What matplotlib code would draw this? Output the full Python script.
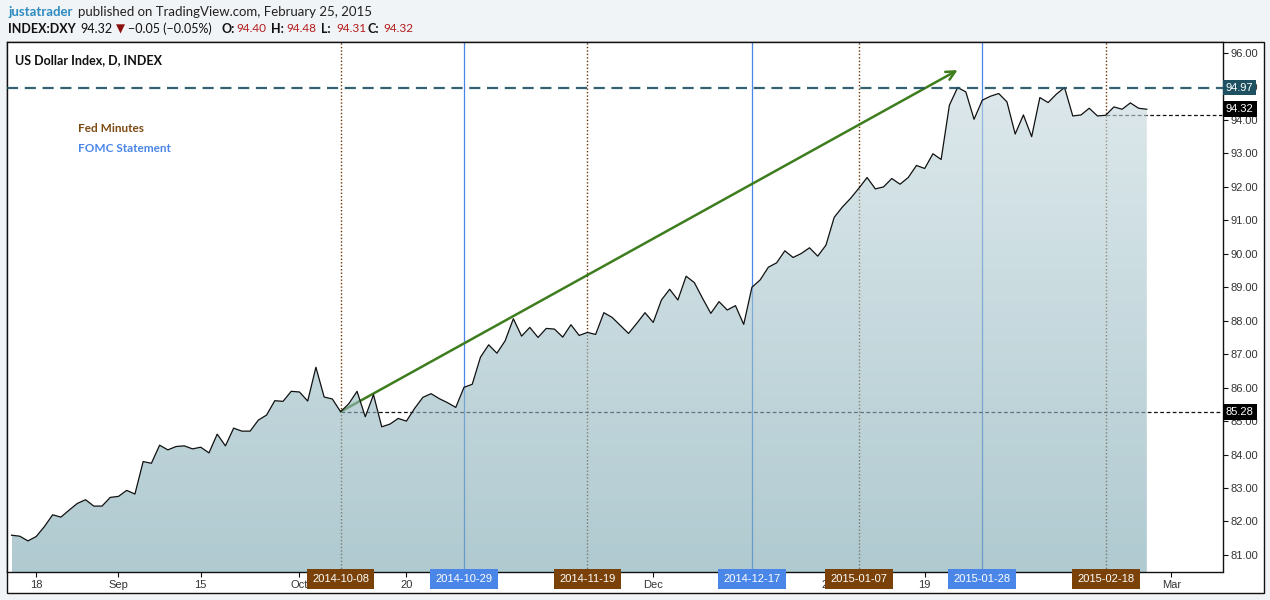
import matplotlib
matplotlib.use("Agg")
import matplotlib.pyplot as plt
import numpy as np
import pandas as pd
from matplotlib.colors import LinearSegmentedColormap
from matplotlib.patches import Rectangle

W, H = 1270, 600

# US Dollar Index daily closes, 2014-08-13 .. 2015-02-25
close = [
    81.59, 81.56, 81.42, 81.55, 81.85, 82.20, 82.13, 82.34, 82.54, 82.65,
    82.46, 82.46, 82.72, 82.75, 82.93, 82.82, 83.79, 83.74, 84.28, 84.14,
    84.24, 84.26, 84.17, 84.22, 84.05, 84.61, 84.26, 84.79, 84.70, 84.70,
    85.03, 85.18, 85.61, 85.59, 85.89, 85.87, 85.60, 86.61, 85.72, 85.66,
    85.28, 85.52, 85.89, 85.13, 85.79, 84.83, 84.91, 85.08, 85.00, 85.38,
    85.71, 85.82, 85.67, 85.55, 85.41, 86.01, 86.10, 86.91, 87.28, 87.03,
    87.40, 88.06, 87.54, 87.80, 87.50, 87.77, 87.75, 87.51, 87.88, 87.56,
    87.65, 87.59, 88.24, 88.10, 87.86, 87.62, 87.92, 88.24, 87.95, 88.62,
    88.94, 88.62, 89.33, 89.14, 88.67, 88.22, 88.57, 88.32, 88.45, 87.89,
    89.00, 89.22, 89.60, 89.73, 90.09, 89.89, 90.01, 90.18, 89.93, 90.26,
    91.09, 91.40, 91.66, 91.96, 92.28, 91.94, 92.00, 92.25, 92.08, 92.28,
    92.64, 92.55, 92.99, 92.82, 94.44, 94.97, 94.84, 94.02, 94.59, 94.71,
    94.79, 94.54, 93.58, 94.15, 93.50, 94.67, 94.52, 94.77, 94.97, 94.12,
    94.15, 94.35, 94.12, 94.14, 94.39, 94.32, 94.51, 94.35, 94.32,
]
first_day = "2014-08-13"
holidays = ["2014-12-25", "2015-01-01"]

fed_minutes = ["2014-10-08", "2014-11-19", "2015-01-07", "2015-02-18"]
fomc_statement = ["2014-10-29", "2014-12-17", "2015-01-28"]

tick_dates = ["2014-08-18", "2014-09-01", "2014-09-15", "2014-10-01",
              "2014-10-20", "2014-12-01", "2015-01-02", "2015-01-19",
              "2015-02-02", "2015-03-02"]
tick_labels = ["18", "Sep", "15", "Oct", "20", "Dec", "2015", "19", "Feb", "Mar"]

trend_start = ("2014-10-08", 85.28)
trend_end = ("2015-01-23", 95.49)

header_quote = [("O:", "94.40"), ("H:", "94.48"), ("L:", "94.31"), ("C:", "94.32")]

BROWN = "#7a4108"
BLUE = "#4a86e8"
TEAL = "#1d5161"
GREEN = "#3e7d1e"

days = pd.bdate_range(first_day, "2015-03-20")
days = days[~days.isin(pd.to_datetime(holidays))]
pos = {d.strftime("%Y-%m-%d"): i for i, d in enumerate(days)}
x = np.arange(len(close))


def fx(px):
    return px / W


def fy(py):
    return 1 - py / H


fig = plt.figure(figsize=(W / 100, H / 100), dpi=100, facecolor="#f1f4f7")
fig.patches.append(Rectangle((fx(7), fy(593)), (1264 - 7) / W, (593 - 42) / H,
                             transform=fig.transFigure, facecolor="white",
                             edgecolor="#111", lw=1, zorder=-1))

ax = fig.add_axes([fx(7), fy(572), (1222.5 - 7) / W, (572 - 42) / H])
ax.set_zorder(1)
ax.set_facecolor("white")
for s in ax.spines.values():
    s.set_color("#111")
    s.set_linewidth(1)

# event lines
for d in fed_minutes:
    ax.axvline(pos[d], color="#6b3300", lw=1.0, ls=(0, (1, 1.5)), zorder=1)
for d in fomc_statement:
    ax.axvline(pos[d], color=BLUE, lw=0.9, zorder=1)

# price reference lines
i_start = pos[trend_start[0]]
i_last_fed = pos[fed_minutes[-1]]
ax.hlines(close[i_start], i_start, 147.2, color="#111", lw=0.9, ls=(0, (3, 2)), zorder=1.2)
ax.hlines(close[i_last_fed], i_last_fed, 147.2, color="#111", lw=0.9, ls=(0, (3, 2)), zorder=1.2)

# trend arrow
ax.annotate("", xy=(pos[trend_end[0]], trend_end[1]),
            xytext=(pos[trend_start[0]], trend_start[1]),
            arrowprops=dict(arrowstyle="->", color=GREEN, lw=1.8,
                            mutation_scale=16, shrinkA=0, shrinkB=0),
            zorder=1.5)

# gradient area
poly = ax.fill_between(x, close, 80.49, facecolor="none", edgecolor="none")
cmap = LinearSegmentedColormap.from_list("area", ["#7ba7b2", "#c6d9de"])
grad = np.linspace(0, 1, 256).reshape(-1, 1)
img = ax.imshow(grad, extent=[x[0], x[-1], 80.49, max(close)], origin="lower",
                aspect="auto", cmap=cmap, alpha=0.6, zorder=2)
img.set_clip_path(poly.get_paths()[0], transform=ax.transData)
ax.set_xlim(-0.55, 147.2)
ax.set_ylim(80.49, 96.33)

ax.plot(x, close, color="#111", lw=0.9, zorder=3)
ax.axhline(max(close), color=TEAL, lw=1.6, ls=(0, (5, 3)), alpha=0.9, zorder=4)

# axes ticks
ax.yaxis.tick_right()
ax.set_yticks(np.arange(81, 97, 1.0))
ax.set_yticklabels([f"{v:.2f}" for v in np.arange(81, 97, 1.0)])
ax.set_xticks([pos[d] for d in tick_dates])
ax.set_xticklabels(tick_labels)
ax.tick_params(axis="both", labelsize=8, labelcolor="#333", color="#111",
               length=3.5, width=0.8, pad=2)
for lab in ax.get_xticklabels() + ax.get_yticklabels():
    lab.set_fontfamily("Liberation Sans")

# event date boxes
for dates, col in ((fed_minutes, BROWN), (fomc_statement, BLUE)):
    for d in dates:
        ax.annotate(d, xy=(pos[d], 0), xycoords=("data", "axes fraction"),
                    xytext=(0, -1.5), textcoords="offset points",
                    ha="center", va="top", fontsize=8, color="white",
                    family="Liberation Sans",
                    bbox=dict(boxstyle="square,pad=0.48", fc=col, ec="none"),
                    annotation_clip=False, zorder=6)

# price tags
for v, col in ((max(close), TEAL), (close[-1], "black"), (close[i_start], "black")):
    ax.annotate(f"{v:.2f}", xy=(1, v), xycoords=("axes fraction", "data"),
                xytext=(2.5, 0), textcoords="offset points", ha="left",
                va="center", fontsize=8, color="white", family="Liberation Sans",
                bbox=dict(boxstyle="square,pad=0.25", fc=col, ec="none"),
                annotation_clip=False, zorder=7)

# legend and title
fig.text(fx(15), fy(60), "US Dollar Index, D, INDEX", fontsize=9, fontweight="bold",
         family="Lato", color="#111", va="center", zorder=5)
fig.text(fx(78), fy(129), "Fed Minutes", fontsize=8.5, fontweight="bold",
         family="Lato", color="#7b4a12", va="center", zorder=5)
fig.text(fx(78), fy(149), "FOMC Statement", fontsize=8.5, fontweight="bold",
         family="Lato", color=BLUE, va="center", zorder=5)

# header
fig.text(fx(8), fy(12), "justatrader", fontsize=9.5, fontweight="bold",
         family="Lato", color="#2e8bc0", va="center")
fig.text(fx(78), fy(12), "published on TradingView.com, February 25, 2015",
         fontsize=9.5, family="Lato", color="#222", va="center")
fig.text(fx(8), fy(29), "INDEX:DXY", fontsize=9, fontweight="bold",
         family="Lato", color="#111", va="center")
fig.text(fx(80), fy(29), "94.32", fontsize=9, family="Lato", color="#111", va="center")
fig.text(fx(116), fy(29), "\u25bc", fontsize=8.5, family=["DejaVu Sans"], color="#8b1111", va="center")
fig.text(fx(128), fy(29), "\u22120.05 (\u22120.05%)", fontsize=9,
         family=["Lato", "DejaVu Sans"], color="#111", va="center")
qx = [221, 271, 321, 368]
for px, (k, v) in zip(qx, header_quote):
    fig.text(fx(px), fy(29), k, fontsize=9, fontweight="bold", family="Lato",
             color="#111", va="center")
    fig.text(fx(px + 15), fy(29), v, fontsize=8.5, family="Lato",
             color="#b31b1b", va="center")

fig.savefig("out.png", dpi=100, facecolor=fig.get_facecolor())
